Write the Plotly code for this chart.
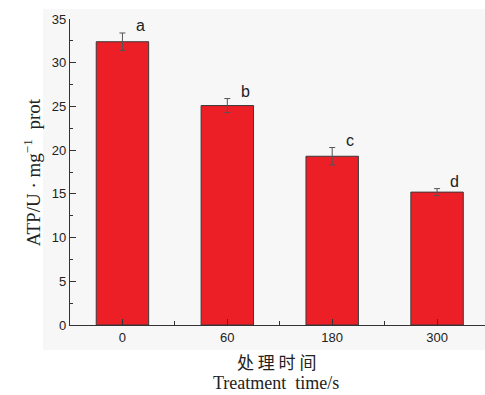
import plotly.graph_objects as go

categories = ["0", "60", "180", "300"]
atp_values = [32.4, 25.1, 19.3, 15.2]
atp_errors = [1.0, 0.8, 1.0, 0.4]
sig_letters = ["a", "b", "c", "d"]
y_ticks = [0, 5, 10, 15, 20, 25, 30, 35]

xpos = list(range(len(categories)))

fig = go.Figure()
fig.add_trace(go.Bar(
    x=xpos, y=atp_values, width=0.5,
    marker=dict(color="#ec1f27", line=dict(color="#3a3a3a", width=1)),
    error_y=dict(type="data", array=atp_errors, color="#555555", thickness=1, width=3),
))

for xi, v, e, letter in zip(xpos, atp_values, atp_errors, sig_letters):
    fig.add_annotation(x=xi + 0.17, y=v + e + 0.8, text=letter, showarrow=False,
                       yanchor="middle",
                       font=dict(family="Liberation Sans, Arial", size=16, color="#222"),
                       xref="x", yref="y")

# grey panel behind the plot
fig.add_shape(type="rect", xref="paper", yref="paper",
              x0=-0.065, x1=1.05, y0=-0.082, y1=1.033,
              fillcolor="#f7f7f7", line=dict(width=0), layer="below")

fig.add_annotation(text="ATP/U · mg<sup>−1</sup>  prot", xref="paper", yref="paper",
                   x=-0.125, y=0.5, textangle=-90, showarrow=False,
                   font=dict(family="Liberation Serif, Times New Roman", size=19, color="#222"))
fig.add_annotation(text="处 理 时 间", xref="paper", yref="paper",
                   x=0.497, y=-0.118, showarrow=False, yanchor="middle",
                   font=dict(family="Noto Sans CJK SC", size=17, color="#222"))
fig.add_annotation(text="Treatment  time/s", xref="paper", yref="paper",
                   x=0.497, y=-0.19, showarrow=False, yanchor="middle",
                   font=dict(family="Liberation Serif, Times New Roman", size=18, color="#222"))

fig.update_layout(
    width=485, height=395,
    margin=dict(l=70, r=0, t=19, b=70),
    paper_bgcolor="white", plot_bgcolor="rgba(0,0,0,0)",
    showlegend=False,
    xaxis=dict(range=[-0.5, 3.457], tickvals=xpos, ticktext=categories,
               showline=True, linecolor="#333", linewidth=1.2,
               ticks="inside", ticklen=6, tickcolor="#333",
               minor=dict(tick0=0.5, dtick=1, ticks="inside", ticklen=4, tickcolor="#333"),
               showgrid=False, zeroline=False,
               tickfont=dict(family="Liberation Sans, Arial", size=13, color="#222")),
    yaxis=dict(range=[0, 35], tickvals=y_ticks,
               showline=True, linecolor="#333", linewidth=1.2,
               ticks="inside", ticklen=6, tickcolor="#333",
               minor=dict(dtick=2.5, ticks="inside", ticklen=3, tickcolor="#333"),
               showgrid=False, zeroline=False,
               tickfont=dict(family="Liberation Sans, Arial", size=13, color="#222")),
)

fig.write_html("out.html", config={"displayModeBar": False},
               post_script="document.body.style.margin='0';document.body.style.overflow='hidden';")
